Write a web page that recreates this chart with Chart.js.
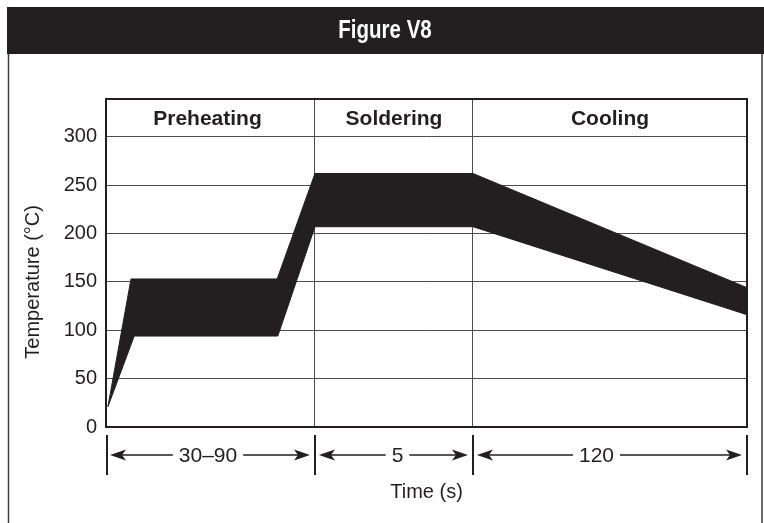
<!DOCTYPE html>
<html><head><meta charset="utf-8">
<script src="https://cdn.jsdelivr.net/npm/chart.js@4.4.1/dist/chart.umd.min.js"></script>
<style>html,body{margin:0;padding:0;background:#fff;overflow:hidden}#wrap{width:764px;height:523px;position:relative}</style>
</head><body><div id="wrap"><canvas id="c" width="764" height="523"></canvas></div>
<script>
// ---- data ----
const figureTitle = 'Figure V8';
const phaseNames = ['Preheating', 'Soldering', 'Cooling'];
const phaseDurations = ['30–90', '5', '120'];
const phaseEdges = [0, 32.6, 57.25, 100];           // schematic time axis (% of width)
const upperTime = [0.3, 3.9, 26.7, 32.6, 57.25, 100];
const upperTemp = [21, 153, 153, 262, 262, 144];
const lowerTime = [0.3, 4.4, 26.8, 32.6, 57.25, 100];
const lowerTemp = [21, 94, 94, 207, 207, 116];
const tempTicks = [0, 50, 100, 150, 200, 250, 300];
const yTitle = 'Temperature (°C)';
const xTitle = 'Time (s)';

// ---- style ----
const INK = '#231f20';
const GRID = '#4d4d4d';
const FONT = '"Liberation Sans", Arial, Helvetica, sans-serif';
const durationShift = [-2, 4, -13];

const toPts = (xs, ys) => xs.map((x, i) => ({ x: x, y: ys[i] }));

const decor = {
  id: 'decor',
  beforeDraw(chart) {
    const ctx = chart.ctx;
    ctx.save();
    ctx.fillStyle = '#fff';
    ctx.fillRect(0, 0, chart.width, chart.height);
    ctx.fillStyle = INK;
    ctx.fillRect(7, 7, 757, 47);
    ctx.strokeStyle = '#3a3a3a';
    ctx.lineWidth = 1.5;
    ctx.beginPath();
    ctx.moveTo(8.5, 54); ctx.lineTo(8.5, 523);
    ctx.moveTo(762, 54); ctx.lineTo(762, 523);
    ctx.stroke();
    // condensed bold title
    ctx.fillStyle = '#fff';
    ctx.font = 'bold 25px ' + FONT;
    ctx.textAlign = 'center';
    ctx.textBaseline = 'alphabetic';
    ctx.translate(385, 38);
    ctx.scale(0.82, 1);
    ctx.fillText(figureTitle, 0, 0);
    ctx.restore();
  },
  afterDatasetsDraw(chart) {
    const ctx = chart.ctx;
    const a = chart.chartArea;
    const xs = chart.scales.x, ys = chart.scales.y;
    ctx.save();
    // plot border
    ctx.strokeStyle = INK;
    ctx.lineWidth = 2;
    ctx.strokeRect(a.left, a.top, a.right - a.left, a.bottom - a.top);
    // phase header labels
    const topRowY = (a.top + ys.getPixelForValue(tempTicks[tempTicks.length - 1])) / 2;
    ctx.fillStyle = INK;
    ctx.textAlign = 'center';
    ctx.textBaseline = 'middle';
    ctx.font = 'bold 21px ' + FONT;
    for (let i = 0; i < phaseNames.length; i++) {
      const cx = (xs.getPixelForValue(phaseEdges[i]) + xs.getPixelForValue(phaseEdges[i + 1])) / 2;
      ctx.fillText(phaseNames[i], cx - (i === 0 ? 3 : 0), topRowY + 1);
    }
    // dimension row
    const y0 = a.bottom + 8, y1 = a.bottom + 48, ay = a.bottom + 28;
    ctx.lineWidth = 2;
    ctx.beginPath();
    phaseEdges.forEach(v => {
      const px = Math.round(xs.getPixelForValue(v)) + (v === phaseEdges[0] ? 1 : 0);
      ctx.moveTo(px, y0); ctx.lineTo(px, y1);
    });
    ctx.stroke();
    ctx.font = '21px ' + FONT;
    const arrowHead = (tipX, dir) => {
      ctx.beginPath();
      ctx.moveTo(tipX, ay);
      ctx.lineTo(tipX - dir * 16, ay - 5.5);
      ctx.lineTo(tipX - dir * 12, ay);
      ctx.lineTo(tipX - dir * 16, ay + 5.5);
      ctx.closePath();
      ctx.fill();
    };
    for (let i = 0; i < phaseDurations.length; i++) {
      const l = xs.getPixelForValue(phaseEdges[i]) + 4;
      const r = xs.getPixelForValue(phaseEdges[i + 1]) - 5;
      const cx = (l + r) / 2 + durationShift[i];
      const tw = ctx.measureText(phaseDurations[i]).width;
      ctx.fillText(phaseDurations[i], cx, ay + 1);
      ctx.lineWidth = 1.6;
      ctx.beginPath();
      ctx.moveTo(l + 10, ay); ctx.lineTo(cx - tw / 2 - 6, ay);
      ctx.moveTo(cx + tw / 2 + 6, ay); ctx.lineTo(r - 10, ay);
      ctx.stroke();
      arrowHead(l, -1);
      arrowHead(r, 1);
    }
    // axis titles
    ctx.font = '20px ' + FONT;
    ctx.fillText(xTitle, (a.left + a.right) / 2, a.bottom + 65);
    ctx.save();
    ctx.translate(33, (ys.getPixelForValue(tempTicks[0]) + ys.getPixelForValue(tempTicks[tempTicks.length - 1])) / 2);
    ctx.rotate(-Math.PI / 2);
    ctx.fillText(yTitle, 0, 0);
    ctx.restore();
    ctx.restore();
  }
};

new Chart(document.getElementById('c'), {
  type: 'line',
  data: {
    datasets: [
      { label: 'Upper limit', data: toPts(upperTime, upperTemp), borderColor: INK, backgroundColor: INK,
        borderWidth: 1, pointRadius: 0, tension: 0, fill: '+1' },
      { label: 'Lower limit', data: toPts(lowerTime, lowerTemp), borderColor: INK, backgroundColor: INK,
        borderWidth: 1, pointRadius: 0, tension: 0, fill: false }
    ]
  },
  options: {
    responsive: false,
    animation: false,
    devicePixelRatio: 1,
    layout: { padding: { top: 99, right: 17, left: 0, bottom: 0 } },
    plugins: { legend: { display: false }, tooltip: { enabled: false }, title: { display: false } },
    scales: {
      x: {
        type: 'linear', min: 0, max: 100,
        afterBuildTicks: s => { s.ticks = phaseEdges.map(v => ({ value: v })); },
        afterFit: s => { s.height = 96; },
        ticks: { display: false },
        grid: { color: GRID, lineWidth: 1, drawTicks: false },
        border: { display: false }
      },
      y: {
        min: 0, max: 339,
        afterBuildTicks: s => { s.ticks = tempTicks.map(v => ({ value: v })); },
        afterFit: s => { s.width = 106; },
        ticks: { color: INK, font: { family: FONT, size: 20 }, padding: 9 },
        grid: { color: GRID, lineWidth: 1, drawTicks: false },
        border: { display: false }
      }
    }
  },
  plugins: [decor]
});
</script></body></html>
